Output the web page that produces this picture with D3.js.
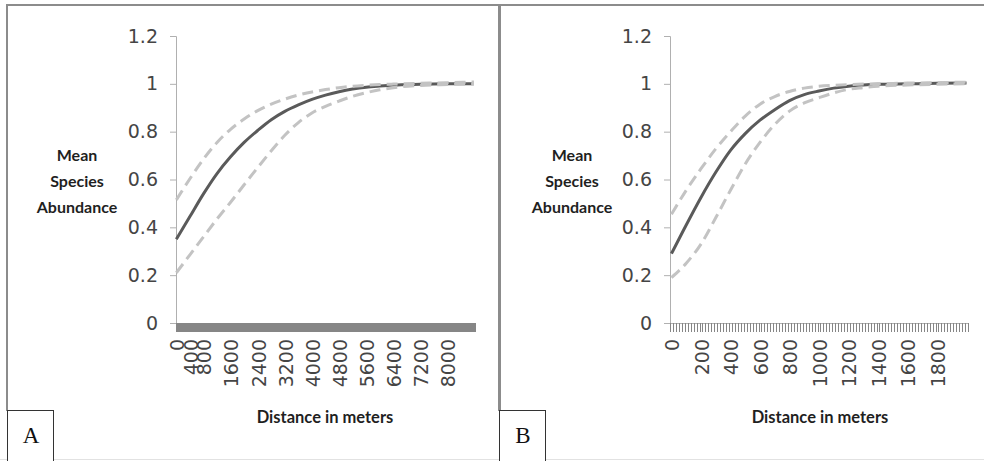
<!DOCTYPE html>
<html>
<head>
<meta charset="utf-8">
<script src="https://cdn.jsdelivr.net/npm/d3@7"></script>
<style>
  body { margin: 0; background: #fff; }
  svg { display: block; }
</style>
</head>
<body>
<script>
// chart data
const yTicks = [0, 0.2, 0.4, 0.6, 0.8, 1, 1.2];

// panel A: distance up to ~8800 m
const distA = [0, 400, 800, 1200, 1600, 2000, 2400, 2800, 3200, 3600, 4000, 4400, 4800, 5200, 5600, 6000, 6400, 7200, 8000, 8780];
const meanA = [0.35, 0.445, 0.54, 0.625, 0.695, 0.755, 0.805, 0.85, 0.885, 0.912, 0.935, 0.953, 0.967, 0.978, 0.986, 0.991, 0.995, 0.998, 1.0, 1.0];
const upperA = [0.515, 0.603, 0.685, 0.755, 0.81, 0.853, 0.888, 0.915, 0.936, 0.953, 0.966, 0.976, 0.984, 0.99, 0.994, 0.997, 0.999, 1.002, 1.005, 1.008];
const lowerA = [0.21, 0.285, 0.36, 0.435, 0.505, 0.578, 0.65, 0.72, 0.785, 0.838, 0.878, 0.906, 0.928, 0.948, 0.963, 0.975, 0.984, 0.993, 0.997, 1.0];
const xLabelsA = [0, 400, 800, 1600, 2400, 3200, 4000, 4800, 5600, 6400, 7200, 8000];

// panel B: distance up to 2000 m
const distB = [0, 100, 200, 300, 400, 500, 600, 700, 800, 900, 1000, 1100, 1200, 1300, 1400, 1600, 1800, 2000];
const meanB = [0.29, 0.41, 0.525, 0.63, 0.722, 0.792, 0.848, 0.892, 0.93, 0.955, 0.97, 0.982, 0.99, 0.995, 0.998, 1.0, 1.002, 1.003];
const upperB = [0.455, 0.555, 0.645, 0.728, 0.8, 0.865, 0.915, 0.947, 0.968, 0.982, 0.99, 0.994, 0.997, 0.999, 1.0, 1.003, 1.005, 1.007];
const lowerB = [0.19, 0.25, 0.33, 0.44, 0.555, 0.665, 0.755, 0.83, 0.886, 0.92, 0.942, 0.962, 0.977, 0.984, 0.99, 0.995, 0.998, 1.0];
const xLabelsB = [0, 200, 400, 600, 800, 1000, 1200, 1400, 1600, 1800];

const width = 984, height = 461;

const svg = d3.select("body").append("svg")
    .attr("width", width)
    .attr("height", height);

// outer frame lines
svg.append("line").attr("x1", 6).attr("x2", width).attr("y1", 5).attr("y2", 5)
    .attr("stroke", "#8c8c8c").attr("stroke-width", 2);
svg.append("line").attr("x1", 7).attr("x2", 7).attr("y1", 4).attr("y2", 411)
    .attr("stroke", "#8c8c8c").attr("stroke-width", 2);
svg.append("line").attr("x1", 499.5).attr("x2", 499.5).attr("y1", 4).attr("y2", 411)
    .attr("stroke", "#8c8c8c").attr("stroke-width", 3);
svg.append("line").attr("x1", 0).attr("x2", width).attr("y1", 459.5).attr("y2", 459.5)
    .attr("stroke", "#e2e2e2").attr("stroke-width", 1);

function drawPanel(p) {
    const x = d3.scaleLinear().domain(p.domain).range([p.left, p.right]);
    const y = d3.scaleLinear().domain([0, 1.2]).range([323, 36]);

    const g = svg.append("g");

    // y axis
    const yAxis = g.append("g")
        .attr("transform", `translate(${p.left},0)`)
        .call(d3.axisLeft(y).tickValues(yTicks).tickSize(6).tickPadding(12)
            .tickFormat(d => d3.format("~g")(d)));
    yAxis.select(".domain").attr("stroke", "#b0b0b0");
    yAxis.selectAll(".tick line").attr("stroke", "#b0b0b0");
    yAxis.selectAll("text")
        .attr("font-family", "DejaVu Sans")
        .attr("font-size", 19)
        .attr("fill", "#454545");

    // dense category tick marks along the x axis
    const minor = d3.range(p.domain[0], p.domain[1] + 1, 20);
    const xMinor = g.append("g")
        .attr("transform", "translate(0,323)")
        .call(d3.axisBottom(x).tickValues(minor).tickSize(9).tickFormat(""));
    xMinor.select(".domain").attr("stroke", "#b0b0b0");
    xMinor.selectAll(".tick line")
        .attr("stroke", "#868686")
        .attr("shape-rendering", "crispEdges");

    // rotated x labels
    g.selectAll(".xlab")
        .data(p.labels)
        .join("text")
        .attr("class", "xlab")
        .attr("transform", d => `translate(${x(d) + 1},339) rotate(-90)`)
        .attr("text-anchor", "end")
        .attr("dy", "0.36em")
        .attr("font-family", "DejaVu Sans")
        .attr("font-size", 19)
        .attr("fill", "#454545")
        .text(d => d);

    const line = d3.line()
        .x(d => x(d[0]))
        .y(d => y(d[1]))
        .curve(d3.curveMonotoneX);

    g.append("path")
        .attr("d", line(d3.zip(p.dist, p.mean)))
        .attr("fill", "none")
        .attr("stroke", "#5a5a5a")
        .attr("stroke-width", 3);

    [p.upper, p.lower].forEach(vals => {
        g.append("path")
            .attr("d", line(d3.zip(p.dist, vals)))
            .attr("fill", "none")
            .attr("stroke", "#c3c3c3")
            .attr("stroke-width", 3)
            .attr("stroke-dasharray", "11,6");
    });

    // axis titles
    const yt = g.append("text")
        .attr("text-anchor", "middle")
        .attr("font-family", "Lato")
        .attr("font-weight", "bold")
        .attr("font-size", 16)
        .attr("fill", "#1f1f1f");
    [["Mean", 161], ["Species", 187], ["Abundance", 213]].forEach(([t, yy]) => {
        yt.append("tspan").attr("x", p.ytitleX).attr("y", yy).text(t);
    });

    g.append("text")
        .attr("x", p.xtitleX)
        .attr("y", 423)
        .attr("text-anchor", "middle")
        .attr("font-family", "Lato")
        .attr("font-weight", "bold")
        .attr("font-size", 16.5)
        .attr("fill", "#1f1f1f")
        .text("Distance in meters");

    // panel letter box
    g.append("rect")
        .attr("x", p.boxX + 0.5).attr("y", 410.5)
        .attr("width", 46).attr("height", 60)
        .attr("fill", "#fff")
        .attr("stroke", "#333")
        .attr("stroke-width", 1);
    g.append("text")
        .attr("x", p.boxX + 24)
        .attr("y", 443)
        .attr("text-anchor", "middle")
        .attr("font-family", "Liberation Serif")
        .attr("font-size", 23)
        .attr("fill", "#111")
        .text(p.letter);
}

drawPanel({
    left: 176, right: 475, domain: [-10, 8810],
    dist: distA, mean: meanA, upper: upperA, lower: lowerA, labels: xLabelsA,
    ytitleX: 77, xtitleX: 325, boxX: 7, letter: "A"
});

drawPanel({
    left: 670, right: 968, domain: [-10, 2010],
    dist: distB, mean: meanB, upper: upperB, lower: lowerB, labels: xLabelsB,
    ytitleX: 572, xtitleX: 820, boxX: 499, letter: "B"
});
</script>
</body>
</html>
